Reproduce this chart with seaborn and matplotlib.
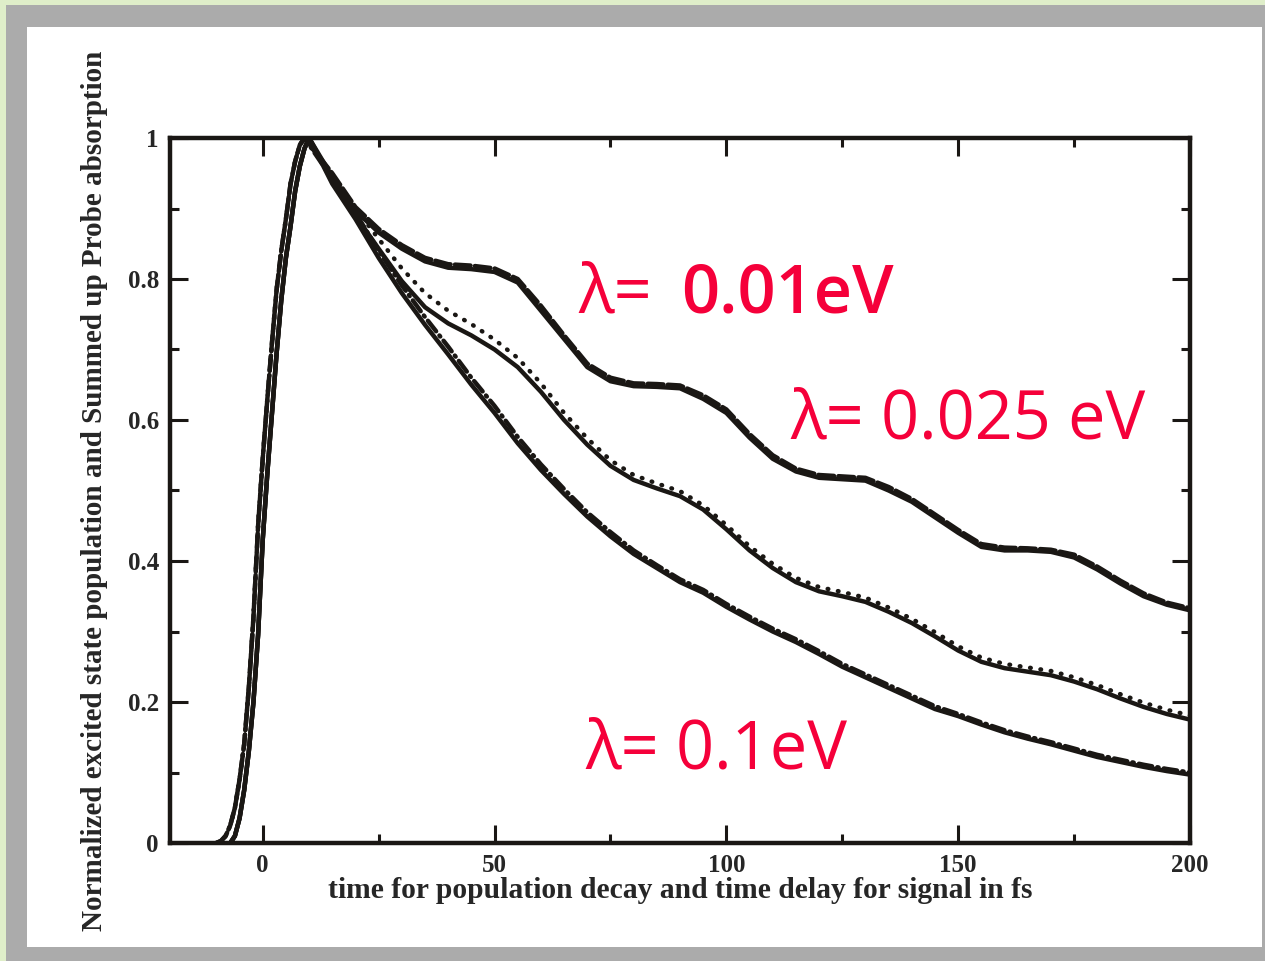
import numpy as np
import pandas as pd
import matplotlib
matplotlib.use("Agg")
import matplotlib.pyplot as plt
import seaborn as sns
from matplotlib.patches import Rectangle
from matplotlib.ticker import MultipleLocator

# ---------------- data ----------------
t_rise_solid = [-7, -6, -5, -4, -3, -2, -1, 0, 1, 2, 3, 4, 5, 6, 7, 8, 9]
y_rise_solid = [0.0, 0.01, 0.035, 0.075, 0.13, 0.2, 0.295, 0.43, 0.525, 0.61,
                0.695, 0.77, 0.83, 0.875, 0.925, 0.96, 0.985]
t_rise_alt = [-10, -9, -8, -7, -6, -5, -4, -3, -2, -1, 0, 1, 2, 3, 4, 5, 6, 7, 8, 9]
y_rise_alt = [0.0, 0.003, 0.01, 0.025, 0.05, 0.09, 0.14, 0.22, 0.32, 0.45,
              0.545, 0.63, 0.71, 0.785, 0.84, 0.885, 0.935, 0.967, 0.99, 1.0]

t_decay = [10, 15, 20, 25, 30, 35, 40, 45, 50, 55, 60, 65, 70, 75, 80, 85, 90,
           95, 100, 105, 110, 115, 120, 125, 130, 135, 140, 145, 150, 155, 160,
           165, 170, 175, 180, 185, 190, 195, 200]

# lambda = 0.01 eV
top_solid = [1.0, 0.945, 0.897, 0.866, 0.843, 0.825, 0.816, 0.814, 0.81, 0.795,
             0.755, 0.715, 0.675, 0.655, 0.648, 0.647, 0.645, 0.63, 0.61, 0.575,
             0.545, 0.527, 0.518, 0.516, 0.514, 0.5, 0.484, 0.462, 0.44, 0.42,
             0.415, 0.415, 0.413, 0.405, 0.388, 0.368, 0.35, 0.338, 0.33]
top_dashed = [1.0, 0.95, 0.902, 0.871, 0.848, 0.83, 0.821, 0.819, 0.815, 0.8,
              0.762, 0.72, 0.68, 0.66, 0.652, 0.651, 0.649, 0.635, 0.615, 0.58,
              0.55, 0.531, 0.522, 0.52, 0.518, 0.505, 0.488, 0.466, 0.444, 0.424,
              0.419, 0.418, 0.416, 0.409, 0.392, 0.372, 0.354, 0.341, 0.333]

# lambda = 0.025 eV
mid_solid = [1.0, 0.94, 0.89, 0.843, 0.797, 0.76, 0.737, 0.72, 0.70, 0.675,
             0.64, 0.6, 0.565, 0.535, 0.515, 0.503, 0.492, 0.473, 0.445, 0.415,
             0.39, 0.37, 0.357, 0.35, 0.342, 0.328, 0.312, 0.293, 0.273, 0.257,
             0.248, 0.243, 0.238, 0.229, 0.218, 0.205, 0.193, 0.183, 0.175]
mid_dotted = [1.0, 0.948, 0.9, 0.857, 0.815, 0.78, 0.755, 0.736, 0.714, 0.688,
              0.652, 0.61, 0.574, 0.543, 0.522, 0.51, 0.499, 0.479, 0.451, 0.421,
              0.396, 0.376, 0.363, 0.356, 0.348, 0.334, 0.318, 0.299, 0.279, 0.263,
              0.254, 0.249, 0.244, 0.235, 0.224, 0.211, 0.199, 0.189, 0.181]

# lambda = 0.1 eV
bot_solid = [1.0, 0.935, 0.885, 0.83, 0.78, 0.735, 0.693, 0.65, 0.61, 0.567,
             0.529, 0.495, 0.463, 0.435, 0.41, 0.39, 0.37, 0.355, 0.335, 0.317,
             0.3, 0.285, 0.268, 0.25, 0.235, 0.22, 0.205, 0.19, 0.18, 0.168,
             0.157, 0.148, 0.14, 0.131, 0.122, 0.115, 0.108, 0.102, 0.097]
bot_dashdot = [1.0, 0.942, 0.894, 0.84, 0.791, 0.746, 0.704, 0.66, 0.62, 0.576,
               0.537, 0.502, 0.469, 0.441, 0.415, 0.394, 0.374, 0.359, 0.339, 0.321,
               0.304, 0.289, 0.272, 0.254, 0.239, 0.224, 0.209, 0.194, 0.183, 0.171,
               0.16, 0.151, 0.143, 0.134, 0.125, 0.118, 0.111, 0.105, 0.1]

x_ticks = [0, 50, 100, 150, 200]
x_ticklabels = ["0", "50", "100", "150", "200"]
y_ticks = [0, 0.2, 0.4, 0.6, 0.8, 1.0]
y_ticklabels = ["0", "0.2", "0.4", "0.6", "0.8", "1"]

label_prefix = ["\u03bb= ", "\u03bb= ", "\u03bb= "]
label_value = ["0.01eV", "0.025 eV", "0.1eV"]
label_x = [68.0, 113.8, 69.6]
label_value_x = [90.3, 0, 0]
label_y = [0.753, 0.574, 0.106]

xlabel = "time for population decay and time delay for signal in fs"
ylabel = "Normalized excited state population and Summed up Probe absorption"

# ---------------- figure ----------------
sns.set_theme(style="ticks")
plt.rcParams["font.family"] = ["Liberation Serif", "DejaVu Serif"]

W, H = 1265, 961
fig = plt.figure(figsize=(W / 100, H / 100), dpi=100)
fig.patch.set_facecolor("#dfeec9")

def px_rect(x0, y0, x1, y1, color):
    fig.patches.append(Rectangle((x0 / W, 1 - y1 / H), (x1 - x0) / W, (y1 - y0) / H,
                                 transform=fig.transFigure, facecolor=color,
                                 edgecolor="none", zorder=-10))

px_rect(6, 5, W, H, "#ababab")
px_rect(27, 27, 1262, 947, "#ffffff")

ax = fig.add_axes([170 / W, 1 - 843 / H, (1190 - 170) / W, (843 - 138) / H])
ax.set_facecolor("white")

ink = "#1a1714"
lw = 3.2
solid_t = t_rise_solid + t_decay
alt_t = t_rise_alt + t_decay[1:]

series = [
    (solid_t, y_rise_solid + top_solid, "-"),
    (alt_t, y_rise_alt + top_dashed[1:], (0, (3.5, 1.0))),
    (solid_t, y_rise_solid + mid_solid, "-"),
    (alt_t, y_rise_alt + mid_dotted[1:], (0, (0.15, 2.2))),
    (solid_t, y_rise_solid + bot_solid, "-"),
    (alt_t, y_rise_alt + bot_dashdot[1:], (0, (3.0, 1.2, 0.3, 1.2))),
]
for t, y, ls in series:
    df = pd.DataFrame({"t": t, "y": y})
    sns.lineplot(data=df, x="t", y="y", ax=ax, color=ink, linewidth=lw,
                 linestyle=ls, sort=False, estimator=None,
                 dash_capstyle="round", solid_capstyle="round")

ax.set_xlim(-20, 200)
ax.set_ylim(0, 1)
ax.set_xticks(x_ticks)
ax.set_xticklabels(x_ticklabels)
ax.set_yticks(y_ticks)
ax.set_yticklabels(y_ticklabels)
ax.xaxis.set_minor_locator(MultipleLocator(25))
ax.yaxis.set_minor_locator(MultipleLocator(0.1))
ax.tick_params(which="both", direction="in", top=True, right=True,
               color=ink, width=2.2)
ax.tick_params(which="major", length=13, labelsize=18, pad=8)
ax.tick_params(which="minor", length=6.5)
for lab in ax.get_xticklabels() + ax.get_yticklabels():
    lab.set_fontweight("bold")
for sp in ax.spines.values():
    sp.set_linewidth(3.2)
    sp.set_color(ink)

ax.set_xlabel(xlabel, fontsize=21.3, fontweight="bold", labelpad=0)
ax.set_ylabel(ylabel, fontsize=21, fontweight="bold", labelpad=14)

red = "#f5003a"
fam = ["Open Sans", "DejaVu Sans"]
fs = 48
# first label: prefix regular, value heavier
ax.text(label_x[0], label_y[0], label_prefix[0], color=red, fontsize=fs,
        family=fam, va="baseline", ha="left")
ax.text(label_value_x[0], label_y[0], label_value[0], color=red, fontsize=fs,
        fontweight=600, family=fam, va="baseline", ha="left")
for i in (1, 2):
    ax.text(label_x[i], label_y[i], label_prefix[i] + label_value[i], color=red,
            fontsize=fs, family=fam, va="baseline", ha="left")

fig.savefig("out.png", dpi=100)
